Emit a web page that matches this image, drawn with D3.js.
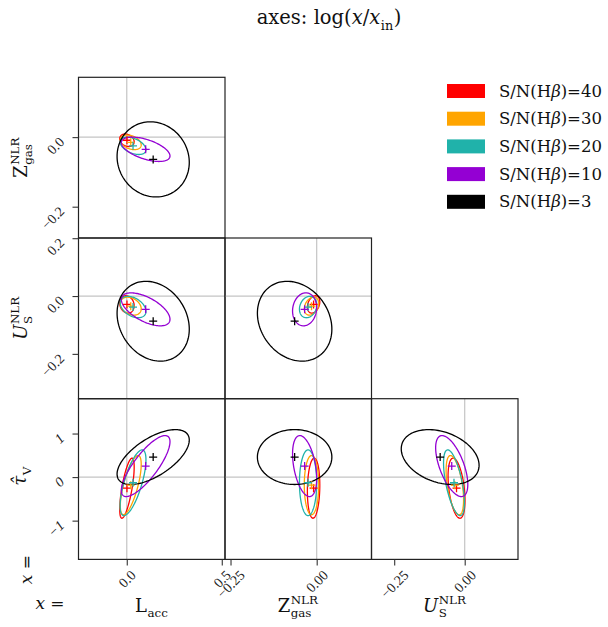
<!DOCTYPE html>
<html><head><meta charset="utf-8">
<script src="https://cdn.jsdelivr.net/npm/d3@7"></script>
<style>body{margin:0;background:#fff}</style>
</head><body>
<svg id="chart" width="608" height="627"></svg>
<script>
// ---------- DATA ----------
const seriesSN = ["40", "30", "20", "10", "3"];
const seriesColors = ["#ff0000", "#ffa500", "#20b2aa", "#9400d3", "#000000"];

// means and 1-sigma widths of log(x/x_in), per series (S/N = 40,30,20,10,3)
const Lacc_mean  = [0.001, 0.021, 0.033, 0.0995, 0.139];
const Lacc_sigma = [0.038, 0.055, 0.068, 0.128, 0.190];
const Zgas_mean  = [-0.009, -0.015, -0.025, -0.035, -0.064];
const Zgas_sigma = [0.018, 0.021, 0.025, 0.035, 0.108];
const US_mean    = [-0.029, -0.035, -0.038, -0.046, -0.087];
const US_sigma   = [0.030, 0.031, 0.037, 0.057, 0.138];
const tauV_mean  = [-0.255, -0.185, -0.13, 0.253, 0.46];
const tauV_sigma = [0.69, 0.68, 0.755, 0.70, 0.63];

// correlation coefficients per parameter pair
const rho_Lacc_Zgas = [-0.25, -0.35, -0.45, -0.55, -0.08];
const rho_Lacc_US   = [-0.15, -0.30, -0.40, -0.60, -0.20];
const rho_Zgas_US   = [0.30, 0.30, 0.20, 0.10, -0.20];
const rho_Lacc_tauV = [0.70, 0.70, 0.70, 0.80, 0.62];
const rho_Zgas_tauV = [0.10, 0.00, 0.00, -0.40, 0.00];
const rho_US_tauV   = [-0.40, -0.50, -0.60, -0.60, -0.30];

// axis ranges and tick labels
const Lacc_xDomain = [-0.254, 0.517];
const Zgas_xDomain = [-0.266, 0.159];
const US_xDomain   = [-0.3305, 0.189];
const Zgas_yDomain = [-0.290, 0.172];
const US_yDomain   = [-0.355, 0.2007];
const tauV_yDomain = [-1.89, 1.80];
const Lacc_xTicks = [0.0, 0.5];
const Zgas_xTicks = [-0.25, 0.0];
const US_xTicks   = [-0.25, 0.0];
const Zgas_yTicks = [-0.2, 0.0];
const US_yTicks   = [-0.2, 0.0, 0.2];
const tauV_yTicks = [-1, 0, 1];

// ---------- SETUP ----------
const means = {Lacc: Lacc_mean, Zgas: Zgas_mean, US: US_mean, tauV: tauV_mean};
const sigmas = {Lacc: Lacc_sigma, Zgas: Zgas_sigma, US: US_sigma, tauV: tauV_sigma};
const corr = {
  "Lacc|Zgas": rho_Lacc_Zgas, "Lacc|US": rho_Lacc_US, "Zgas|US": rho_Zgas_US,
  "Lacc|tauV": rho_Lacc_tauV, "Zgas|tauV": rho_Zgas_tauV, "US|tauV": rho_US_tauV
};
const cols = [
  {p: "Lacc", dom: Lacc_xDomain, ticks: Lacc_xTicks, fmt: d3.format(".1f")},
  {p: "Zgas", dom: Zgas_xDomain, ticks: Zgas_xTicks, fmt: d3.format(".2f")},
  {p: "US",   dom: US_xDomain,   ticks: US_xTicks,   fmt: d3.format(".2f")}
];
const rows = [
  {p: "Zgas", dom: Zgas_yDomain, ticks: Zgas_yTicks, fmt: d3.format(".1f"), it: false},
  {p: "US",   dom: US_yDomain,   ticks: US_yTicks,   fmt: d3.format(".1f"), it: false},
  {p: "tauV", dom: tauV_yDomain, ticks: tauV_yTicks, fmt: d3.format("d"), it: true}
];

const svg = d3.select("#chart");
const SERIF = "DejaVu Serif";
const TICKFONT = "Liberation Serif";
const TFS = 14;
const gridLeft = 78.5, gridTop = 77.3, pw = 146.5, ph = 160.7;

// math-like text builder
function mathText(parent, pieces, fs) {
  const g = parent.append("g");
  let x = 0;
  pieces.forEach(pc => {
    if (pc.t !== undefined) {
      const t = g.append("text").attr("x", x).attr("y", 0)
        .attr("font-family", SERIF).attr("font-size", fs).attr("fill", "#111")
        .attr("font-style", pc.it ? "italic" : "normal").text(pc.t);
      x += t.node().getComputedTextLength();
    } else {
      let w = 0;
      const sfs = fs * 0.66;
      if (pc.sup) {
        const t = g.append("text").attr("x", x + 0.5).attr("y", -fs * 0.42)
          .attr("font-family", SERIF).attr("font-size", sfs).attr("fill", "#111").text(pc.sup);
        w = Math.max(w, t.node().getComputedTextLength());
      }
      if (pc.sub) {
        const t = g.append("text").attr("x", x + 0.5).attr("y", fs * 0.3)
          .attr("font-family", SERIF).attr("font-size", sfs).attr("fill", "#111").text(pc.sub);
        w = Math.max(w, t.node().getComputedTextLength());
      }
      x += w + 1;
    }
  });
  return {g, w: x};
}
function centeredLabel(pieces, fs, cx, cy, rot) {
  const outer = svg.append("g").attr("transform", `translate(${cx},${cy}) rotate(${rot})`);
  const m = mathText(outer, pieces, fs);
  m.g.attr("transform", `translate(${-m.w / 2},0)`);
}

// ---------- PANELS ----------
const ellipseLine = d3.line().curve(d3.curveLinearClosed);
const NPTS = 120;

rows.forEach((row, i) => {
  cols.forEach((col, j) => {
    if (j > i) return;
    const x0 = gridLeft + j * pw, y0 = gridTop + i * ph;
    const g = svg.append("g").attr("transform", `translate(${x0},${y0})`);
    const xs = d3.scaleLinear().domain(col.dom).range([0, pw]);
    const ys = d3.scaleLinear().domain(row.dom).range([ph, 0]);
    const cid = `clip${i}${j}`;
    g.append("clipPath").attr("id", cid).append("rect").attr("width", pw).attr("height", ph);
    const inner = g.append("g").attr("clip-path", `url(#${cid})`);

    // reference lines at truth (0)
    inner.append("line").attr("x1", xs(0)).attr("x2", xs(0)).attr("y1", 0).attr("y2", ph)
      .attr("stroke", "#c4c4c4").attr("stroke-width", 1.2);
    inner.append("line").attr("x1", 0).attr("x2", pw).attr("y1", ys(0)).attr("y2", ys(0))
      .attr("stroke", "#c4c4c4").attr("stroke-width", 1.2);

    const px = col.p, py = row.p;
    const rhoArr = corr[`${px}|${py}`];
    seriesSN.forEach((sn, s) => {
      const mx = means[px][s], my = means[py][s];
      const sx = sigmas[px][s], sy = sigmas[py][s];
      const r = rhoArr[s], q = Math.sqrt(1 - r * r);
      const pts = d3.range(NPTS).map(k => {
        const t = 2 * Math.PI * k / NPTS;
        return [xs(mx + sx * Math.cos(t)), ys(my + sy * (r * Math.cos(t) + q * Math.sin(t)))];
      });
      inner.append("path").attr("d", ellipseLine(pts)).attr("fill", "none")
        .attr("stroke", seriesColors[s]).attr("stroke-width", 1.3);
    });
    seriesSN.forEach((sn, s) => {
      const cx = xs(means[px][s]), cy = ys(means[py][s]);
      inner.append("path").attr("d", `M${cx - 4},${cy}H${cx + 4}M${cx},${cy - 4}V${cy + 4}`)
        .attr("stroke", seriesColors[s]).attr("stroke-width", 1.3);
    });

    g.append("rect").attr("width", pw).attr("height", ph).attr("fill", "none")
      .attr("stroke", "#222").attr("stroke-width", 1.2);

    if (j === 0) {
      const ax = g.append("g").call(d3.axisLeft(ys).tickValues(row.ticks).tickFormat(row.fmt).tickSize(6));
      ax.select(".domain").remove();
      ax.selectAll(".tick line").attr("stroke", "#333").attr("stroke-width", 1.1);
      ax.selectAll(".tick text").each(function () {
        const t = d3.select(this).attr("font-family", TICKFONT).attr("font-size", TFS)
          .attr("font-style", row.it ? "italic" : "normal")
          .attr("fill", "#222").attr("text-anchor", "middle").attr("dominant-baseline", "central").attr("dy", null);
        const len = this.getComputedTextLength();
        const s = (len + TFS * 0.7) / (2 * Math.SQRT2);
        const cx = -13 - s, cy = -1.5 + s;
        t.attr("x", cx).attr("y", cy).attr("transform", `rotate(-45,${cx},${cy})`);
      });
    }
    if (i === 2) {
      const ax = g.append("g").attr("transform", `translate(0,${ph})`)
        .call(d3.axisBottom(xs).tickValues(col.ticks).tickFormat(col.fmt).tickSize(6));
      ax.select(".domain").remove();
      ax.selectAll(".tick line").attr("stroke", "#333").attr("stroke-width", 1.1);
      ax.selectAll(".tick text").each(function () {
        const t = d3.select(this).attr("font-family", TICKFONT).attr("font-size", TFS)
          .attr("fill", "#222").attr("text-anchor", "middle").attr("dominant-baseline", "central").attr("dy", null);
        const len = this.getComputedTextLength();
        const s = (len + TFS * 0.7) / (2 * Math.SQRT2);
        const cx = 0, cy = 10 + s;
        t.attr("x", cx).attr("y", cy).attr("transform", `rotate(-45,${cx},${cy})`);
      });
    }
  });
});

// ---------- LABELS ----------
// title
(function () {
  const outer = svg.append("g").attr("transform", "translate(329,24)");
  const m = mathText(outer, [{t: "axes: log("}, {t: "x", it: true}, {t: "/"}, {t: "x", it: true}, {sub: "in"}, {t: ")"}], 19.5);
  m.g.attr("transform", `translate(${-m.w / 2},0)`);
})();

// y-axis labels
centeredLabel([{t: "Z"}, {sup: "NLR", sub: "gas"}], 18, 27, 157.5, -90);
centeredLabel([{t: "U", it: true}, {sup: "NLR", sub: "S"}], 18, 27, 318, -90);
centeredLabel([{t: "\u03C4\u0302", it: true}, {sub: "V"}], 18, 26, 476, -90);
centeredLabel([{t: "x", it: true}, {t: "\u00A0="}], 17, 32, 569.5, -90);

// x-axis labels
centeredLabel([{t: "x", it: true}, {t: "\u00A0="}], 17, 50, 609, 0);
centeredLabel([{t: "L"}, {sub: "acc"}], 18, 151.7, 612, 0);
centeredLabel([{t: "Z"}, {sup: "NLR", sub: "gas"}], 18, 298, 612, 0);
centeredLabel([{t: "U", it: true}, {sup: "NLR", sub: "S"}], 18, 444.7, 612, 0);

// legend
const lg = svg.append("g");
seriesSN.forEach((sn, s) => {
  const y = 84 + s * 27.7;
  lg.append("rect").attr("x", 447).attr("y", y).attr("width", 38).attr("height", 14)
    .attr("fill", seriesColors[s]);
  const tg = lg.append("g").attr("transform", `translate(499,${y + 12.5})`);
  mathText(tg, [{t: "S/N(H"}, {t: "\u03B2", it: true}, {t: ")=" + sn}], 16.5);
});
</script>
</body></html>
